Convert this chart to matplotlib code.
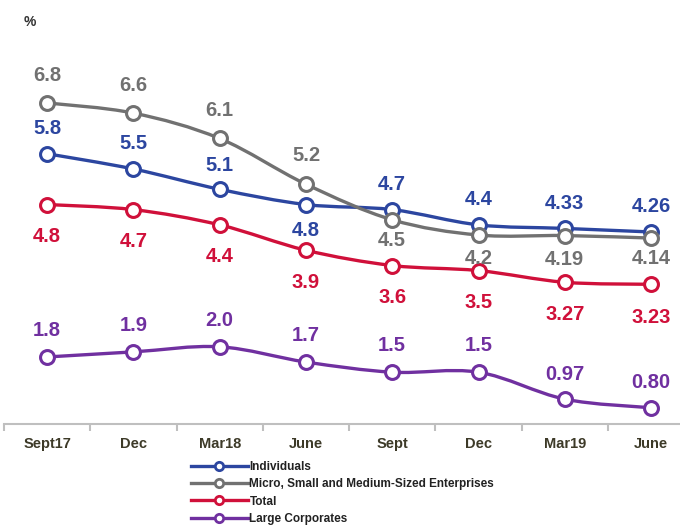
import matplotlib.pyplot as plt
from matplotlib.path import Path
from matplotlib.patches import PathPatch
from matplotlib.lines import Line2D

plt.rcParams['font.family'] = ['Liberation Sans', 'DejaVu Sans']

periods = ["Sept17", "Dec", "Mar18", "June", "Sept", "Dec", "Mar19", "June"]
individuals = [5.8, 5.5, 5.1, 4.8, 4.7, 4.4, 4.33, 4.26]
msme = [6.8, 6.6, 6.1, 5.2, 4.5, 4.2, 4.19, 4.14]
total = [4.8, 4.7, 4.4, 3.9, 3.6, 3.5, 3.27, 3.23]
large_corp = [1.8, 1.9, 2.0, 1.7, 1.5, 1.5, 0.97, 0.80]

ind_lbl = ["5.8", "5.5", "5.1", "4.8", "4.7", "4.4", "4.33", "4.26"]
msme_lbl = ["6.8", "6.6", "6.1", "5.2", "4.5", "4.2", "4.19", "4.14"]
tot_lbl = ["4.8", "4.7", "4.4", "3.9", "3.6", "3.5", "3.27", "3.23"]
lc_lbl = ["1.8", "1.9", "2.0", "1.7", "1.5", "1.5", "0.97", "0.80"]

# label offsets in points (positive = above)
ind_off = [18, 18, 17, -19, 18, 18, 18, 18]
msme_off = [20, 20, 20, 21, -15, -17, -17, -15]
tot_off = [-23, -23, -23, -23, -23, -23, -23, -24]
lc_off = [19, 19, 19, 19, 19, 19, 18, 18]

c_ind = "#2c46a0"
c_msme = "#717171"
c_tot = "#d0103a"
c_lc = "#7030a0"


def smooth_path(xs, ys):
    # bezier segments through the points (Excel-like smoothing)
    pts = list(zip(xs, ys))
    n = len(pts)
    verts = [pts[0]]
    codes = [Path.MOVETO]
    for i in range(n - 1):
        p0 = pts[i - 1] if i > 0 else pts[i]
        p1 = pts[i]
        p2 = pts[i + 1]
        p3 = pts[i + 2] if i + 2 < n else pts[i + 1]
        c1 = (p1[0] + (p2[0] - p0[0]) / 6, p1[1] + (p2[1] - p0[1]) / 6)
        c2 = (p2[0] - (p3[0] - p1[0]) / 6, p2[1] - (p3[1] - p1[1]) / 6)
        verts += [c1, c2, p2]
        codes += [Path.CURVE4] * 3
    return Path(verts, codes)


fig = plt.figure(figsize=(6.8, 5.27), dpi=100)
ax = fig.add_axes([0.0059, 0.1954, 1.015, 0.7057])
x = list(range(len(periods)))

series = [
    (individuals, ind_lbl, ind_off, c_ind, "Individuals"),
    (msme, msme_lbl, msme_off, c_msme, "Micro, Small and Medium-Sized Enterprises"),
    (total, tot_lbl, tot_off, c_tot, "Total"),
    (large_corp, lc_lbl, lc_off, c_lc, "Large Corporates"),
]

handles = []
for vals, lbls, offs, col, name in series:
    ax.add_patch(PathPatch(smooth_path(x, vals), fill=False, edgecolor=col,
                           linewidth=2.4, zorder=2, capstyle='round'))
    ax.plot(x, vals, linestyle='none', marker='o', markersize=10,
            markerfacecolor='white', markeredgecolor=col, markeredgewidth=2.2, zorder=3)
    for xi, v, t, o in zip(x, vals, lbls, offs):
        ax.annotate(t, (xi, v), xytext=(0, o), textcoords='offset points',
                    ha='center', va='center', fontsize=14.5, fontweight='bold',
                    color=col, zorder=5)
    handles.append(Line2D([], [], color=col, linewidth=2.4, marker='o', markersize=6,
                          markerfacecolor='white', markeredgecolor=col,
                          markeredgewidth=2.0, label=name))

ax.set_xlim(-0.5, len(periods) - 0.5)
ax.set_ylim(0.48, 7.8)
for s in ['left', 'top', 'right']:
    ax.spines[s].set_visible(False)
ax.spines['bottom'].set_color('#bfbfbf')
ax.spines['bottom'].set_linewidth(1.5)
ax.set_yticks([])
ax.set_xticks(x)
ax.set_xticklabels(periods, fontsize=10.5, fontweight='bold', color='#3d3a28')
ax.tick_params(axis='x', which='major', length=0, pad=9)
ax.set_xticks([i - 0.5 for i in range(len(periods) + 1)], minor=True)
ax.tick_params(axis='x', which='minor', length=5, width=1.5, color='#bfbfbf')

fig.text(30 / 680, 1 - 22 / 527, "%", fontsize=10, fontweight='bold',
         color='#333333', ha='center', va='center')

leg = fig.legend(handles=handles, loc='upper left', bbox_to_anchor=(191 / 680, 1 - 461 / 527),
                 frameon=False, fontsize=8.5, handlelength=4.8, handletextpad=0.15,
                 labelspacing=0.45, borderpad=0, borderaxespad=0)
for t in leg.get_texts():
    t.set_fontweight('bold')
    t.set_color('#222222')

fig.savefig("out.png", dpi=100)
